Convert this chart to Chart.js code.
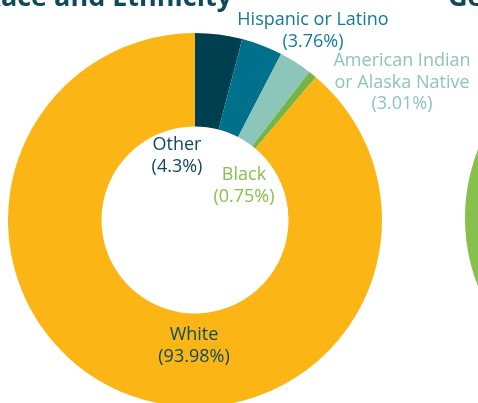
<!DOCTYPE html>
<html lang="en">
<head>
    <meta charset="UTF-8">
    <title>Race and Ethnicity</title>
    <script src="https://cdn.jsdelivr.net/npm/chart.js"></script>
    <style>
        html, body { margin: 0; padding: 0; width: 478px; height: 403px; overflow: hidden; background: #fff; }
        #raceChart { position: absolute; left: 0; top: 0; }
        #genderChart { position: absolute; left: 465px; top: 31px; }
    </style>
</head>
<body>
    <canvas id="raceChart" width="478" height="420"></canvas>
    <canvas id="genderChart" width="374" height="374"></canvas>
    <script>
        // race / ethnicity shares as printed on the chart
        const raceLabels = ['Other', 'Hispanic or Latino', 'American Indian or Alaska Native', 'Black', 'White'];
        const raceValues = [4.3, 3.76, 3.01, 0.75, 93.98];
        const raceColors = ['#003f4f', '#00718c', '#8cc5b9', '#78b445', '#fbb616'];
        const labelColors = ['#0f4a5c', '#14799a', '#8cc5b9', '#86c04d', '#0f4a5c'];

        // neighbouring chart, only its edge is visible
        const genderLabels = ['Male', 'Female'];
        const genderValues = [40, 60];
        const genderColors = ['#00718c', '#86c04d'];

        const FONT = "'Open Sans', 'Noto Sans', sans-serif";

        // where each label sits, relative to the doughnut centre
        const labelSpots = [
            { dx: -18, dy: -75, lines: ['Other', '(4.3%)'] },
            { dx: 118, dy: -200, lines: ['Hispanic or Latino', '(3.76%)'] },
            { dx: 207, dy: -159, lines: ['American Indian', 'or Alaska Native', '(3.01%)'] },
            { dx: 49, dy: -45, lines: ['Black', '(0.75%)'] },
            { dx: -1, dy: 115, lines: ['White', '(93.98%)'] }
        ];

        const textPlugin = {
            id: 'texts',
            afterDraw(chart) {
                const ctx = chart.ctx;
                const arc = chart.getDatasetMeta(0).data[0];
                const cx = arc.x, cy = arc.y;
                ctx.save();
                ctx.textAlign = 'center';
                ctx.textBaseline = 'middle';
                ctx.font = '18px ' + FONT;
                labelSpots.forEach((s, i) => {
                    ctx.fillStyle = labelColors[i];
                    s.lines.forEach((t, j) => {
                        ctx.fillText(t, cx + s.dx, cy + s.dy + j * 21.5);
                    });
                });
                // section titles, cut off by the top edge
                ctx.fillStyle = '#0f4a5c';
                ctx.font = 'bold 27px ' + FONT;
                ctx.textBaseline = 'alphabetic';
                ctx.textAlign = 'right';
                ctx.fillText('Race and Ethnicity', 232, 6);
                ctx.textAlign = 'left';
                ctx.fillText('Gender', 448, 6);
                ctx.restore();
            }
        };

        new Chart(document.getElementById('raceChart').getContext('2d'), {
            type: 'doughnut',
            data: {
                labels: raceLabels,
                datasets: [{
                    data: raceValues,
                    backgroundColor: raceColors,
                    borderWidth: 0
                }]
            },
            options: {
                responsive: false,
                animation: false,
                cutout: '50%',
                layout: { padding: { left: 8, right: 96, top: 33, bottom: 13 } },
                plugins: {
                    legend: { display: false },
                    tooltip: { enabled: false }
                }
            },
            plugins: [textPlugin]
        });

        new Chart(document.getElementById('genderChart').getContext('2d'), {
            type: 'doughnut',
            data: {
                labels: genderLabels,
                datasets: [{
                    data: genderValues,
                    backgroundColor: genderColors,
                    borderWidth: 0
                }]
            },
            options: {
                responsive: false,
                animation: false,
                cutout: '50%',
                plugins: {
                    legend: { display: false },
                    tooltip: { enabled: false }
                }
            }
        });
    </script>
</body>
</html>
